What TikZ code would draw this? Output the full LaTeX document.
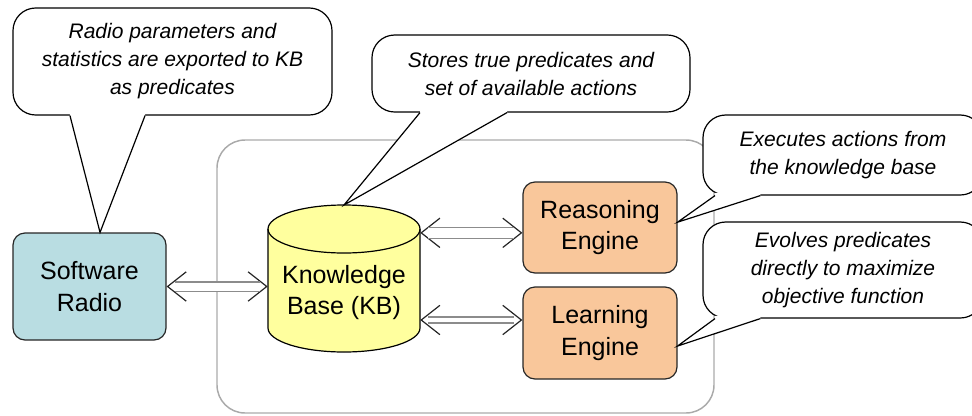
\documentclass[tikz,border=0pt]{standalone}
\usepackage{fontspec}
\setmainfont{Liberation Sans}
\usetikzlibrary{arrows.meta}
\definecolor{srblue}{RGB}{185,221,226}
\definecolor{kbyellow}{RGB}{255,255,158}
\definecolor{engpeach}{RGB}{249,199,155}
\definecolor{framegray}{RGB}{170,170,170}
\begin{document}
\begin{tikzpicture}[x=0.75pt,y=-0.75pt,
  box/.style={draw=black!85, line width=0.9pt, rounded corners=9pt, align=center,
    font=\fontsize{18.75}{23.5}\selectfont, inner sep=0pt},
  callout/.style={draw=black, line width=0.9pt, fill=white, rounded corners=17pt,
    align=center, inner sep=0pt, font=\fontsize{15.75}{21}\selectfont\itshape},
  ptr/.style={draw=black, line width=0.9pt},
  chev/.style={draw=white, line width=0.1pt,
    {Straight Barb[color=black!85, length=14pt, width=22pt, line width=0.9pt]}-{Straight Barb[color=black!85, length=14pt, width=22pt, line width=0.9pt]}},
  shaft/.style={draw=black!45, line width=0.9pt, double=white, double distance=#1, shorten <=6pt, shorten >=6pt},
  shaft/.default=6pt,
]
\useasboundingbox (0,0) rectangle (972,415);
\clip (0,0) rectangle (972,415);

% container
\draw[framegray, line width=1.1pt, rounded corners=21pt] (217,140) rectangle (714,413);

% boxes
\node[box, fill=srblue, minimum width=114.75pt, minimum height=80.25pt] (sr) at (89.5,286.5) {Software\\Radio};
\node[box, fill=engpeach, minimum width=115.5pt, minimum height=68.25pt] (re) at (600,227.5) {Reasoning\\Engine};
\node[box, fill=engpeach, minimum width=115.5pt, minimum height=69pt] (le) at (600,333) {Learning\\Engine};

% knowledge base cylinder
\draw[fill=kbyellow, line width=0.9pt] (268,229) -- (268,328)
  arc[start angle=180, end angle=360, x radius=57pt, y radius=18pt] -- (420,229)
  arc[start angle=0, end angle=180, x radius=57pt, y radius=18pt] -- cycle;
\draw[line width=0.9pt] (268,229) arc[start angle=180, end angle=360, x radius=57pt, y radius=18pt];
\node[align=center, font=\fontsize{18.75}{23.5}\selectfont, minimum width=114pt, inner sep=0pt] (kb) at (344,292.5) {Knowledge\\Base (KB)};
\coordinate (kbtop) at (344,205);

% double arrows
\draw[chev] (sr.east) -- (sr.east -| kb.west);
\draw[shaft] (sr.east) -- (sr.east -| kb.west);
\draw[chev] ([yshift=-4pt]re.west -| kb.east) -- ([yshift=-4pt]re.west);
\draw[shaft=7pt] ([yshift=-4pt]re.west -| kb.east) -- ([yshift=-4pt]re.west);
\draw[chev] ([yshift=9.75pt]le.west -| kb.east) -- ([yshift=9.75pt]le.west);
\draw[shaft=3.5pt] ([yshift=9.75pt]le.west -| kb.east) -- ([yshift=9.75pt]le.west);

% callouts
\node[callout, minimum width=239.25pt, minimum height=80.25pt] (c1) at (172.5,61.5)
  {Radio parameters and\\statistics are exported to KB\\as predicates};
\node[callout, minimum width=238.5pt, minimum height=57.75pt] (c2) at (531,73.5)
  {Stores true predicates and\\set of available actions};
\node[callout, minimum width=210pt, minimum height=60pt] (c3) at (843,155)
  {Executes actions from\\the knowledge base};
\node[callout, minimum width=210pt, minimum height=72pt] (c4) at (843,270)
  {Evolves predicates\\directly to maximize\\objective function};

% pointer tips
\coordinate (t1) at ([xshift=7.9pt]sr.north);
\coordinate (t3) at ([yshift=4pt]re.east);
\coordinate (t4) at ([yshift=-9.75pt]le.east);

% pointers
\fill[white] ([xshift=-76.9pt]c1.south) -- (t1) -- ([xshift=-20.6pt]c1.south)
  -- ([xshift=-20.6pt,yshift=2pt]c1.south) -- ([xshift=-76.9pt,yshift=2pt]c1.south) -- cycle;
\draw[ptr] ([xshift=-76.9pt]c1.south) -- (t1) -- ([xshift=-20.6pt]c1.south);

\fill[white] ([xshift=-83.25pt]c2.south) -- (kbtop) -- ([xshift=-18pt]c2.south)
  -- ([xshift=-18pt,yshift=2pt]c2.south) -- ([xshift=-83.25pt,yshift=2pt]c2.south) -- cycle;
\draw[ptr] ([xshift=-83.25pt]c2.south) -- (kbtop) -- ([xshift=-18pt]c2.south);

\fill[white] ([xshift=-96pt]c3.south) -- (t3) -- ([xshift=-62pt]c3.south)
  -- ([xshift=-62pt,yshift=2pt]c3.south) -- ([xshift=-96pt,yshift=2pt]c3.south) -- cycle;
\draw[ptr] ([xshift=-96pt]c3.south) -- (t3) -- ([xshift=-62pt]c3.south);

\fill[white] ([xshift=-96pt]c4.south) -- (t4) -- ([xshift=-62pt]c4.south)
  -- ([xshift=-62pt,yshift=2pt]c4.south) -- ([xshift=-96pt,yshift=2pt]c4.south) -- cycle;
\draw[ptr] ([xshift=-96pt]c4.south) -- (t4) -- ([xshift=-62pt]c4.south);
\end{tikzpicture}
\end{document}
